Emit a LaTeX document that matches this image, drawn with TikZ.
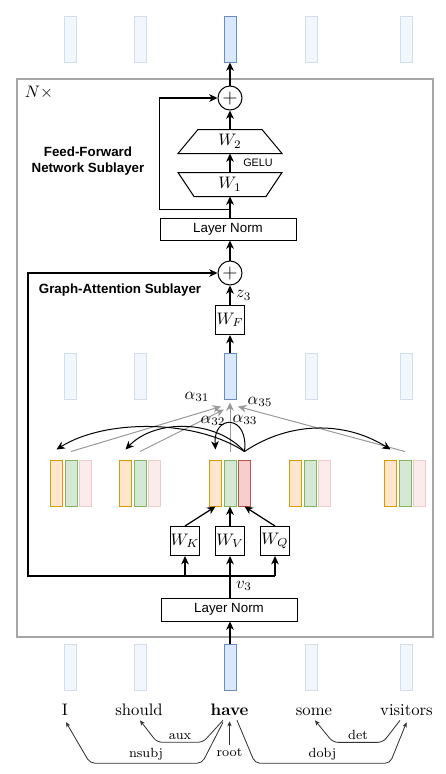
\documentclass[tikz,border=0pt]{standalone}
\usepackage{fontspec}
\newfontfamily\diagsans{Liberation Sans}
\usetikzlibrary{arrows.meta, calc, positioning}
\definecolor{hidblue}{HTML}{DAE8FC}
\definecolor{hidbluedark}{HTML}{6C8EBF}
\definecolor{keyorange}{HTML}{FFE6CC}
\definecolor{keyorangedark}{HTML}{D79B00}
\definecolor{valgreen}{HTML}{D5E8D4}
\definecolor{valgreendark}{HTML}{82B366}
\definecolor{qryred}{HTML}{F8CECC}
\definecolor{qryreddark}{HTML}{B85450}

\begin{document}
\begin{tikzpicture}[x=0.6pt, y=-0.6pt, >={Stealth[length=5pt, width=4.6pt, inset=1.5pt]}, line width=0.6pt]
        \tikzstyle{vec}=[rectangle, draw, inner sep=0pt, minimum width=7.2pt, minimum height=27.6pt]
        \tikzstyle{hid}=[vec, fill=hidblue, draw=hidbluedark]
        \tikzstyle{hidfaded}=[vec, fill=hidblue!35, draw=hidbluedark!30]
        \tikzstyle{key}=[vec, fill=keyorange, draw=keyorangedark]
        \tikzstyle{val}=[vec, fill=valgreen, draw=valgreendark]
        \tikzstyle{qry}=[vec, fill=qryred, draw=qryreddark]
        \tikzstyle{qryfaded}=[vec, fill=qryred!40, draw=qryreddark!30]
        \tikzstyle{sum}=[circle, draw, minimum size=14.4pt, inner sep=0pt, font=\large]
        \tikzstyle{normbox}=[rectangle, draw, minimum width=81.6pt, minimum height=13.2pt, inner sep=0pt, font={\diagsans\fontsize{8}{9.6}\selectfont}]
        \tikzstyle{wbox}=[rectangle, draw, minimum size=17.4pt, inner sep=0pt]
        \tikzstyle{ffn}=[rectangle, minimum width=40pt, minimum height=13.8pt, inner sep=0pt]
        \tikzstyle{sublabel}=[font={\diagsans\bfseries\fontsize{8}{9.6}\selectfont}, align=center]
        \tikzstyle{word}=[anchor=base, inner sep=1pt]
        \tikzstyle{dep}=[-{Stealth[length=3pt, width=2.6pt, inset=0.8pt]}, line width=0.5pt, draw=black!80, rounded corners=3pt]
        \tikzstyle{deplabel}=[font=\footnotesize, inner sep=1.5pt]
        \tikzstyle{att}=[->, draw=black!40, line width=0.6pt]
        \tikzstyle{arr}=[->, line width=0.75pt]

        \useasboundingbox (0,0) rectangle (446,774);

        % Outer block
        \draw[black!35, line width=0.8pt] (17,79) rectangle (433,637);
        \node at (39,92) {$N\times$};

        % Hidden states: output, attention and input rows
        \foreach \x/\s [count=\i] in {70/hidfaded,140/hidfaded,230/hid,311/hidfaded,406/hidfaded} {
            \node[\s] (t\i) at (\x,39) {};
            \node[\s] (m\i) at (\x,376) {};
            \node[\s] (b\i) at (\x,667) {};
        }

        % Key, value and query vectors
        \foreach \x/\s [count=\i] in {71/qryfaded,140/qryfaded,230/qry,310/qryfaded,405/qryfaded} {
            \node[val] (v\i) at (\x,483) {};
            \node[key, left=0.9pt of v\i] (k\i) {};
            \node[\s, right=0.9pt of v\i] (q\i) {};
        }

        % Feed-forward sublayer
        \node[sum] (sumffn) at (230,98) {$+$};
        \node[ffn] (w2) at (230,141.5) {$W_2$};
        \node[ffn] (w1) at (230,184.5) {$W_1$};
        \draw ($(w2.north)+(-32,0)$) -- ($(w2.north)+(32,0)$) -- ($(w2.south)+(52,0)$) -- ($(w2.south)+(-52,0)$) -- cycle;
        \draw ($(w1.north)+(-52,0)$) -- ($(w1.north)+(52,0)$) -- ($(w1.south)+(36,0)$) -- ($(w1.south)+(-36,0)$) -- cycle;
        \node[normbox] (normffn) at (228,229) {Layer Norm};
        \node[font={\diagsans\fontsize{6.5}{7.8}\selectfont}] at (258,163) {GELU};
        \node[sublabel] at (88,161) {Feed-Forward\\Network Sublayer};

        \draw[arr] (sumffn.north) -- (t3.south);
        \draw[arr] (w2.north) -- (sumffn.south);
        \draw[arr] (w1.north) -- (w2.south);
        \draw[arr] (w1.south |- normffn.north) -- (w1.south);
        \coordinate (ffnfork) at ($(w1.south |- normffn.north)+(0,-8)$);
        \draw[arr] (ffnfork) -- (ffnfork -| normffn.west) |- (sumffn.west);

        % Graph-attention sublayer
        \node[sum] (sumga) at (230,273) {$+$};
        \node[wbox] (wf) at (230,320) {$W_F$};
        \node[sublabel] at (120,290) {Graph-Attention Sublayer};
        \draw[arr] (sumga.north) -- (normffn.south -| sumga);
        \draw[arr] (wf.north) -- (sumga.south) node[midway, right] {$z_3$};
        \draw[arr] (m3.north) -- (wf.south);

        \node[wbox] (wv) at (230,541) {$W_V$};
        \node[wbox, left=9pt of wv] (wk) {$W_K$};
        \node[wbox, right=9pt of wv] (wq) {$W_Q$};
        \draw[arr] (wk.north) -- (k3.south);
        \draw[arr] (wv.north) -- (v3.south);
        \draw[arr] (wq.north) -- (q3.south);

        \node[normbox, minimum height=13.8pt] (normga) at (229,609.5) {Layer Norm};
        \coordinate (gafork) at (230,576);
        \coordinate (galeft) at (28,576);
        \draw[arr] (normga.north -| wv) -- (wv.south) node[pos=0.28, right] {$v_3$};
        \draw[arr] (gafork -| wk) -- (wk.south);
        \draw[arr] (gafork -| wq) -- (wq.south);
        \draw[arr] (gafork -| wq) -- (galeft) |- (sumga.west);
        \draw[arr] (b3.north) -- (normga.south -| b3);

        % Attention weights
        \foreach \i in {1,2,3,5} \coordinate (src\i) at ($(v\i.north)+(0,-8)$);
        \coordinate (qsrc) at ($(q3.north)+(0,-8)$);
        \draw[att] (src1) -- ($(m3.south)+(-9,7)$);
        \draw[att] (src2) -- ($(m3.south)+(-6,10)$);
        \draw[att] (src3) -- ($(m3.south)+(0,3)$);
        \draw[att] (src5) -- ($(m3.south)+(8,7)$);
        \node at (197,397) {$\alpha_{31}$};
        \node at (213,421) {$\alpha_{32}$};
        \node at (245,420) {$\alpha_{33}$};
        \node at (260,402) {$\alpha_{35}$};

        % Query to key scores
        \draw[->] (qsrc) .. controls (195,419) and (105,419) .. ($(k1.north)+(0,-10)$);
        \draw[->] (qsrc) .. controls (215,419) and (155,419) .. ($(k2.north)+(0,-10)$);
        \draw[->] (qsrc) .. controls (249,414) and (213,414) .. ($(k3.north)+(0,-10)$);
        \draw[->] (qsrc) .. controls (290,421) and (345,421) .. ($(k5.north)+(0,-10)$);

        % Sentence and dependency tree
        \node[word] (I) at (65,715) {I};
        \node[word] (should) at (139,715) {should};
        \node[word] (have) at (229.5,715) {\textbf{have}};
        \node[word] (some) at (314,715) {some};
        \node[word] (visitors) at (406.5,715) {visitors};

        \draw[dep] ($(have.south)+(-6.5,3)$) -- ++(-20,22) -- ++(-46,0) node[midway, above, deplabel] {aux} -- ($(should.south)+(1,3)$);
        \draw[dep] ($(have.south)+(-6.5,5)$) -- ++(-21,41) -- ++(-112,0) node[midway, above, deplabel] {nsubj} -- ($(I.south)+(1,5)$);
        \draw[dep] ($(have.south)+(0,28)$) node[below, deplabel] {root} -- ($(have.south)+(0,4)$);
        \draw[dep] ($(have.south)+(7.5,3)$) -- ++(18,43) -- ++(135,0) node[midway, above, deplabel] {dobj} -- ($(visitors.south)+(0,5)$);
        \draw[dep] ($(visitors.south)+(-6.5,3)$) -- ++(-17,22) -- ++(-50,0) node[midway, above, deplabel] {det} -- ($(some.south)+(1,3)$);
    \end{tikzpicture}
\end{document}
